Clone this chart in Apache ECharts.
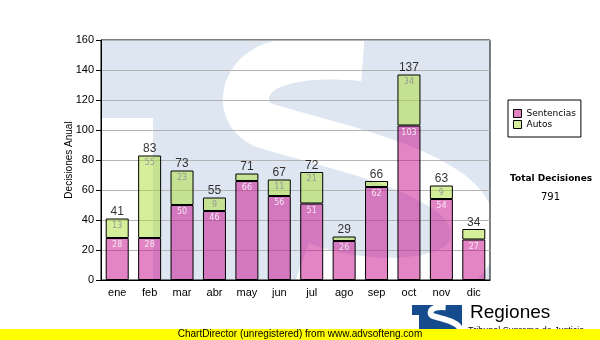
<!DOCTYPE html>
<html>
<head>
<meta charset="utf-8">
<script src="https://cdn.jsdelivr.net/npm/echarts@6/dist/echarts.min.js"></script>
<style>
  html, body { margin: 0; padding: 0; background: #fff; }
  #chart { width: 600px; height: 340px; }
</style>
</head>
<body>
<div id="chart"></div>
<script>
// Monthly decisions, split by type
const months = ['ene', 'feb', 'mar', 'abr', 'may', 'jun', 'jul', 'ago', 'sep', 'oct', 'nov', 'dic'];
const sentencias = [28, 28, 50, 46, 66, 56, 51, 26, 62, 103, 54, 27];
const autos = [13, 55, 23, 9, 5, 11, 21, 3, 4, 34, 9, 7];
const yTicks = { min: 0, max: 160, step: 20 };

const totals = months.map((_, i) => sentencias[i] + autos[i]);
const grandTotal = totals.reduce((a, b) => a + b, 0);

// plot box in pixels
const PL = 101, PT = 40, PR = 490, PB = 280;
const PW = PR - PL, PH = PB - PT;

// "S" stroke of the logo as cubic segments [x1,y1,cx1,cy1,cx2,cy2,x2,y2], in a 389 x 240 box
const sCurves = [
  [262, 18, 235, 16, 200, 14, 170, 26],
  [170, 26, 140, 38, 135, 75, 165, 86],
  [165, 86, 230, 105, 300, 120, 345, 150],
  [345, 150, 380, 172, 385, 215, 345, 232],
  [345, 232, 300, 248, 240, 240, 200, 225]
];

// flatten the curves into one stroke so the joins stay seamless
function sPoints() {
  const pts = [];
  sCurves.forEach((c, k) => {
    for (let i = k === 0 ? 0 : 1; i <= 20; i++) {
      const t = i / 20, u = 1 - t;
      const a = u * u * u, b = 3 * u * u * t, d = 3 * u * t * t, e = t * t * t;
      pts.push([a * c[0] + b * c[2] + d * c[4] + e * c[6], a * c[1] + b * c[3] + d * c[5] + e * c[7]]);
    }
  });
  return pts;
}

function sLogo(x, y, sx, sy, z) {
  return {
    type: 'polyline', x: x, y: y, scaleX: sx, scaleY: sy, z: z,
    shape: { points: sPoints() },
    style: { fill: null, stroke: '#ffffff', lineWidth: 46, lineCap: 'butt', lineJoin: 'round' }
  };
}

const chart = echarts.init(document.getElementById('chart'), null, { renderer: 'canvas' });

const labelFont = 'DejaVu Sans, Verdana, sans-serif';
const axisFont = 'Liberation Sans, Arial, sans-serif';

chart.setOption({
  animation: false,
  backgroundColor: '#ffffff',
  grid: {
    left: PL, top: PT, right: 600 - PR, bottom: 340 - PB,
    show: true, backgroundColor: 'transparent',
    borderColor: '#000', borderWidth: 1
  },
  legend: {
    orient: 'vertical',
    left: 508, top: 100,
    padding: [9, 5, 8, 5],
    itemGap: 2,
    itemWidth: 8, itemHeight: 8,
    icon: 'rect',
    backgroundColor: '#fff',
    borderColor: '#000', borderWidth: 1,
    itemStyle: { borderColor: '#000', borderWidth: 1 },
    textStyle: { fontFamily: labelFont, fontSize: 9, color: '#000' },
    data: ['Sentencias', 'Autos']
  },
  xAxis: {
    type: 'category',
    data: months,
    axisLine: { lineStyle: { color: '#000', width: 1 } },
    axisTick: { alignWithLabel: true, length: 5, lineStyle: { color: '#000' } },
    axisLabel: { margin: 7, fontFamily: axisFont, fontSize: 11, color: '#000' },
    splitLine: { show: false }
  },
  yAxis: {
    type: 'value',
    min: yTicks.min, max: yTicks.max, interval: yTicks.step,
    name: 'Decisiones Anual',
    nameLocation: 'middle',
    nameGap: 27,
    nameMoveOverlap: false,
    nameTextStyle: { fontFamily: axisFont, fontSize: 10, color: '#000' },
    axisLine: { show: true, lineStyle: { color: '#000', width: 1 } },
    axisTick: { show: true, length: 5, lineStyle: { color: '#000' } },
    axisLabel: { margin: 7, fontFamily: axisFont, fontSize: 11, color: '#000' },
    splitLine: { lineStyle: { color: '#b4b4b4', width: 1 } }
  },
  graphic: [
    // watermark behind the plot
    { type: 'rect', z: -10, shape: { x: PL, y: PT, width: PW, height: PH }, style: { fill: '#dee7f1' } },
    { type: 'rect', z: -9, shape: { x: PL, y: 118, width: 52, height: PB - 118 }, style: { fill: '#ffffff' } },
    sLogo(PL, PT, 1, 1, -8),
    // clean margins above and right of the plot
    { type: 'rect', z: -7, shape: { x: PL, y: 0, width: 600 - PL, height: PT }, style: { fill: '#ffffff' } },
    { type: 'rect', z: -7, shape: { x: PR, y: PT, width: 600 - PR, height: 300 - PT }, style: { fill: '#ffffff' } },
    // side note
    { type: 'text', left: 510, top: 174, style: { text: 'Total Decisiones', font: 'bold 9px DejaVu Sans', fill: '#000' } },
    { type: 'text', left: 541, top: 192, style: { text: String(grandTotal), font: '10px DejaVu Sans', fill: '#000' } },
    // footer logo
    { type: 'rect', z: 1, shape: { x: 412, y: 305, width: 50, height: 31 }, style: { fill: '#164c8e' } },
    { type: 'rect', z: 2, shape: { x: 412, y: 315, width: 7, height: 21 }, style: { fill: '#ffffff' } },
    sLogo(412, 305, 50 / 389, 31 / 240, 3),
    { type: 'text', z: 3, left: 470, top: 303, style: { text: 'Regiones', font: '19px Liberation Sans', fill: '#000' } },
    { type: 'text', z: 3, left: 468, top: 326, style: { text: 'Tribunal Supremo de Justicia', font: '9px Liberation Sans', fill: '#000' } },
    { type: 'rect', z: 20, shape: { x: 0, y: 329, width: 600, height: 11 }, style: { fill: '#ffff00' } },
    { type: 'text', z: 21, left: 'center', top: 329, style: { text: 'ChartDirector (unregistered) from www.advsofteng.com', font: '10px Liberation Sans', fill: '#000' } }
  ],
  series: [
    {
      name: 'Sentencias', type: 'bar', stack: 'd', barWidth: 23,
      data: sentencias,
      itemStyle: { color: 'rgba(200,10,140,0.5)', borderColor: '#000', borderWidth: 1 },
      label: {
        show: true, position: 'insideTop', distance: 3,
        fontFamily: labelFont, fontSize: 8, color: '#f4e6f2'
      }
    },
    {
      name: 'Autos', type: 'bar', stack: 'd', barWidth: 23,
      data: autos,
      itemStyle: { color: 'rgba(172,222,52,0.5)', borderColor: '#000', borderWidth: 1 },
      label: {
        show: true, position: 'insideTop', distance: 3,
        fontFamily: labelFont, fontSize: 8, color: '#999999',
        formatter: p => (p.value >= 9 ? String(p.value) : '')
      }
    },
    {
      name: 'Total', type: 'scatter',
      data: totals,
      symbolSize: 1,
      itemStyle: { color: 'rgba(0,0,0,0)' },
      silent: true,
      label: {
        show: true, position: 'top', distance: 0,
        fontFamily: axisFont, fontSize: 12, color: '#000'
      }
    }
  ]
});
</script>
</body>
</html>
